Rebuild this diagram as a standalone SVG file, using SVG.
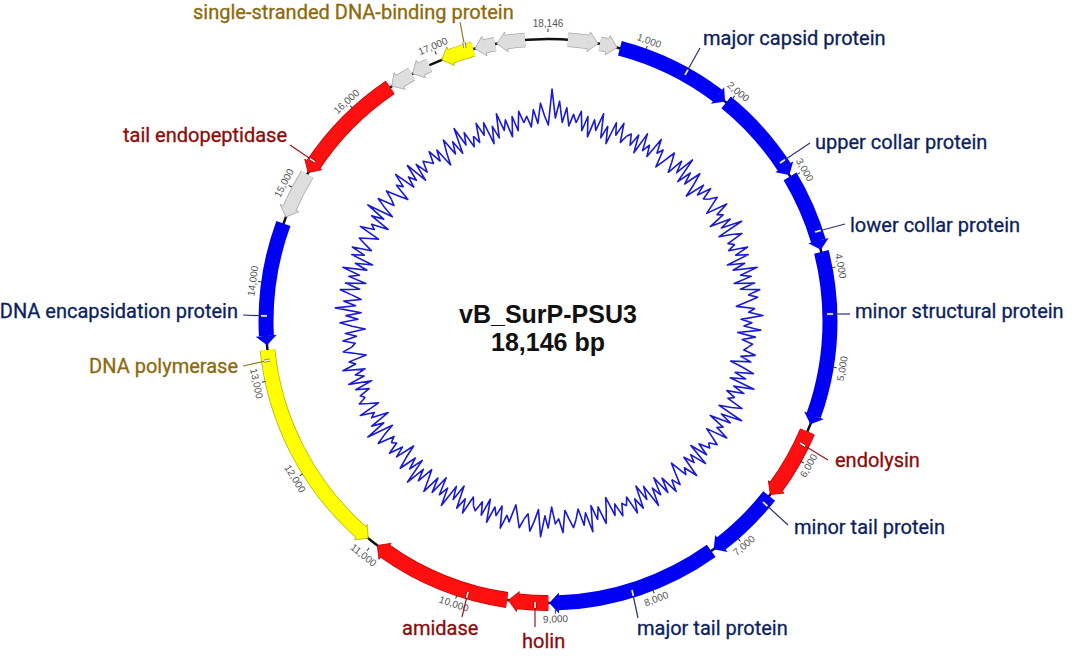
<svg xmlns="http://www.w3.org/2000/svg" width="1084" height="656" viewBox="0 0 1084 656">
<style>
.bb{fill:none;stroke:#111;stroke-width:2.5}
.gc{fill:none;stroke:#1a1ad0;stroke-width:1.6;stroke-linejoin:round}
.body{fill:none}
.blue .body{stroke:#0000f5;stroke-width:15}
.blue .hd{fill:#0000f5}
.red .ol{fill:none;stroke:#c80000;stroke-width:16}
.red .body{stroke:#ff1010;stroke-width:14.4}
.red .hd{fill:#ff1010;stroke:#c80000;stroke-width:0.8}
.yel .ol{fill:none;stroke:#b5b500;stroke-width:15.5}
.yel .body{stroke:#ffff00;stroke-width:14}
.yel .hd{fill:#ffff00;stroke:#b5b500;stroke-width:0.8}
.gry .ol{fill:none;stroke:#a8a8a8;stroke-width:14.5}
.gry .body{stroke:#dedede;stroke-width:13}
.gry .hd{fill:#dedede;stroke:#a8a8a8;stroke-width:0.8}
.lbl{font-family:Roboto,"Liberation Sans",sans-serif;font-size:20px;stroke-width:0.3}
.nv{fill:#0c1f5e;stroke:#0c1f5e}
.dr{fill:#8c0b0b;stroke:#8c0b0b}
.ol2{fill:#8d6a0c;stroke:#8d6a0c}
.ld{fill:none;stroke-width:1.2}
.ldn{stroke:#2a3070}
.ldr{stroke:#8c1b1b}
.ldo{stroke:#8d7a1c}
.mk{stroke-width:3.2;fill:none}
.mkw{stroke:#f4f4f4;stroke-width:1.5;fill:none}
.tk text{font-family:"Liberation Sans",Arial,sans-serif;font-size:10px;fill:#555;text-anchor:middle}
.tk line{stroke:#333;stroke-width:1}
.ctr{font-family:"Liberation Sans",Arial,sans-serif;font-weight:bold;font-size:25px;fill:#111;text-anchor:middle}
</style>
<defs>
<path id="mA" d="M0,-200 L3.7,-212 6.7,-192.9 10.9,-207.7 13.1,-187.5 18,-205.2 20.5,-194.9 26.1,-212.4 26.4,-188.2 31.8,-200.5 32.3,-183.2 39.9,-205.2 41,-192.7 47.5,-205.6 46.4,-186.3 51.8,-193.2"/>
<path id="mB" d="M0,-200 L3.3,-190 7.2,-206.9 10.2,-194.7 15,-214.5 16.5,-188.3 21.3,-202.9 23.4,-190.6 29.2,-208 31,-195.6 32.1,-182.2 39.1,-201.2 40.3,-189.8 46.8,-202.7 47.4,-190.2 51.8,-193.2"/>
<path id="mC" d="M0,-200 L3.6,-209 6.9,-196.9 9.8,-186.7 14.3,-204.5 17.3,-198.2 22.3,-211.8 23.3,-189.6 28.1,-200 30.3,-191.6 36.6,-207.8 35.9,-184.5 42.8,-201.5 43.4,-188.1 49.4,-197.9 51.8,-193.2"/>
<path id="mD" d="M0,-200 L3.4,-194 7.4,-210.9 10.5,-200.7 13.2,-188.5 18.8,-215.2 20.4,-193.9 25.2,-205.5 25.9,-184.2 31.8,-200.5 34.4,-195 40.5,-208.1 39.5,-185.9 44.8,-193.9 50.3,-201.8 51.8,-193.2"/>
<path id="mE" d="M0,-200 L3.6,-206 6.8,-194.9 11.1,-211.7 13.8,-197.5 19,-217.2 21.4,-203.9 23.9,-194.5 32.3,-229.7 31.8,-200.5 38.2,-216.7 38,-195.3 44.5,-209.3 44.1,-191 50.3,-201.8 51.8,-193.2"/>
<path id="hcw" d="M-9.6,-292.5 L0,-282 L-9.6,-271.5 Z"/>
<path id="hccw" d="M9.6,-292.5 L0,-282 L9.6,-271.5 Z"/>
<path id="hcwo" d="M-9.6,-289 L-9.6,-292 L0,-282 L-9.6,-272 L-9.6,-275"/>
<path id="hccwo" d="M9.6,-289 L9.6,-292 L0,-282 L9.6,-272 L9.6,-275"/>
</defs>

<g id="gc-skew" class="gc" transform="translate(550,321)">
<use href="#mE" transform="rotate(-7.5)"/>
<use href="#mA" transform="rotate(7.5)"/>
<use href="#mC" transform="rotate(37.5) scale(-1,1)"/>
<use href="#mB" transform="rotate(37.5)"/>
<use href="#mD" transform="rotate(67.5) scale(-1,1)"/>
<use href="#mA" transform="rotate(82.5) scale(-1,1)"/>
<use href="#mC" transform="rotate(82.5)"/>
<use href="#mB" transform="rotate(112.5) scale(-1,1)"/>
<use href="#mD" transform="rotate(112.5)"/>
<use href="#mC" transform="rotate(142.5) scale(-1,1)"/>
<use href="#mA" transform="rotate(142.5)"/>
<use href="#mB" transform="rotate(172.5) scale(-1,1)"/>
<use href="#mD" transform="rotate(187.5) scale(-1,1)"/>
<use href="#mC" transform="rotate(187.5)"/>
<use href="#mA" transform="rotate(217.5) scale(-1,1)"/>
<use href="#mB" transform="rotate(217.5)"/>
<use href="#mD" transform="rotate(232.5)"/>
<use href="#mC" transform="rotate(262.5) scale(-1,1)"/>
<use href="#mB" transform="rotate(277.5) scale(-1,1)"/>
<use href="#mA" transform="rotate(277.5)"/>
<use href="#mD" transform="rotate(307.5) scale(-1,1)"/>
<use href="#mC" transform="rotate(307.5)"/>
<use href="#mB" transform="rotate(337.5) scale(-1,1)"/>
<use href="#mA" transform="rotate(352.5) scale(-1,1)"/>
</g>

<g id="backbone"><circle class="bb" cx="548" cy="321" r="282"/></g>

<g id="genes" transform="translate(548,321)">
<g id="orf-grey-1" class="gry">
<circle class="ol" r="282" pathLength="18146" transform="rotate(-90)" stroke-dasharray="215 30000" stroke-dashoffset="-205"/>
<circle class="body" r="282" pathLength="18146" transform="rotate(-90)" stroke-dasharray="215 30000" stroke-dashoffset="-205"/>
<use class="hd" href="#hcwo" transform="rotate(10.217)"/></g>
<g id="orf-grey-2" class="gry">
<circle class="ol" r="282" pathLength="18146" transform="rotate(-90)" stroke-dasharray="84 30000" stroke-dashoffset="-535"/>
<circle class="body" r="282" pathLength="18146" transform="rotate(-90)" stroke-dasharray="84 30000" stroke-dashoffset="-535"/>
<use class="hd" href="#hcwo" transform="rotate(14.165)"/></g>
<g id="major-capsid" class="blue">
<circle class="body" r="282" pathLength="18146" transform="rotate(-90)" stroke-dasharray="1120 30000" stroke-dashoffset="-745"/>
<use class="hd" href="#hcw" transform="rotate(38.885)"/></g>
<g id="upper-collar" class="blue">
<circle class="body" r="282" pathLength="18146" transform="rotate(-90)" stroke-dasharray="895 30000" stroke-dashoffset="-1975"/>
<use class="hd" href="#hcw" transform="rotate(58.823)"/></g>
<g id="lower-collar" class="blue">
<circle class="body" r="282" pathLength="18146" transform="rotate(-90)" stroke-dasharray="725 30000" stroke-dashoffset="-2980"/>
<use class="hd" href="#hcw" transform="rotate(75.389)"/></g>
<g id="minor-structural" class="blue">
<circle class="body" r="282" pathLength="18146" transform="rotate(-90)" stroke-dasharray="1705 30000" stroke-dashoffset="-3820"/>
<use class="hd" href="#hcw" transform="rotate(111.496)"/></g>
<g id="endolysin" class="red">
<circle class="ol" r="282" pathLength="18146" transform="rotate(-90)" stroke-dasharray="655 30000" stroke-dashoffset="-5700"/>
<circle class="body" r="282" pathLength="18146" transform="rotate(-90)" stroke-dasharray="655 30000" stroke-dashoffset="-5700"/>
<use class="hd" href="#hcwo" transform="rotate(127.962)"/></g>
<g id="minor-tail" class="blue">
<circle class="body" r="282" pathLength="18146" transform="rotate(-90)" stroke-dasharray="695 30000" stroke-dashoffset="-6470"/>
<use class="hd" href="#hcw" transform="rotate(144.032)"/></g>
<g id="major-tail" class="blue">
<circle class="body" r="282" pathLength="18146" transform="rotate(-90)" stroke-dasharray="1675 30000" stroke-dashoffset="-7290"/>
<use class="hd" href="#hcw" transform="rotate(179.742)"/></g>
<g id="holin" class="red">
<circle class="ol" r="282" pathLength="18146" transform="rotate(-90)" stroke-dasharray="315 30000" stroke-dashoffset="-9070"/>
<circle class="body" r="282" pathLength="18146" transform="rotate(-90)" stroke-dasharray="315 30000" stroke-dashoffset="-9070"/>
<use class="hd" href="#hcwo" transform="rotate(188.075)"/></g>
<g id="amidase" class="red">
<circle class="ol" r="282" pathLength="18146" transform="rotate(-90)" stroke-dasharray="1360 30000" stroke-dashoffset="-9495"/>
<circle class="body" r="282" pathLength="18146" transform="rotate(-90)" stroke-dasharray="1360 30000" stroke-dashoffset="-9495"/>
<use class="hd" href="#hcwo" transform="rotate(217.238)"/></g>
<g id="dna-polymerase" class="yel">
<circle class="ol" r="282" pathLength="18146" transform="rotate(-90)" stroke-dasharray="2145 30000" stroke-dashoffset="-11165"/>
<circle class="body" r="282" pathLength="18146" transform="rotate(-90)" stroke-dasharray="2145 30000" stroke-dashoffset="-11165"/>
<use class="hd" href="#hccwo" transform="rotate(219.619)"/></g>
<g id="dna-encapsidation" class="blue">
<circle class="body" r="282" pathLength="18146" transform="rotate(-90)" stroke-dasharray="1175 30000" stroke-dashoffset="-13455"/>
<use class="hd" href="#hccw" transform="rotate(265.050)"/></g>
<g id="orf-grey-3" class="gry">
<circle class="ol" r="282" pathLength="18146" transform="rotate(-90)" stroke-dasharray="395 30000" stroke-dashoffset="-14795"/>
<circle class="body" r="282" pathLength="18146" transform="rotate(-90)" stroke-dasharray="395 30000" stroke-dashoffset="-14795"/>
<use class="hd" href="#hccwo" transform="rotate(291.635)"/></g>
<g id="tail-endopeptidase" class="red">
<circle class="ol" r="282" pathLength="18146" transform="rotate(-90)" stroke-dasharray="1125 30000" stroke-dashoffset="-15305"/>
<circle class="body" r="282" pathLength="18146" transform="rotate(-90)" stroke-dasharray="1125 30000" stroke-dashoffset="-15305"/>
<use class="hd" href="#hccwo" transform="rotate(301.753)"/></g>
<g id="orf-grey-4" class="gry">
<circle class="ol" r="282" pathLength="18146" transform="rotate(-90)" stroke-dasharray="145 30000" stroke-dashoffset="-16545"/>
<circle class="body" r="282" pathLength="18146" transform="rotate(-90)" stroke-dasharray="145 30000" stroke-dashoffset="-16545"/>
<use class="hd" href="#hccwo" transform="rotate(326.353)"/></g>
<g id="orf-grey-5" class="gry">
<circle class="ol" r="282" pathLength="18146" transform="rotate(-90)" stroke-dasharray="95 30000" stroke-dashoffset="-16795"/>
<circle class="body" r="282" pathLength="18146" transform="rotate(-90)" stroke-dasharray="95 30000" stroke-dashoffset="-16795"/>
<use class="hd" href="#hccwo" transform="rotate(331.313)"/></g>
<g id="ssdna-binding" class="yel">
<circle class="ol" r="282" pathLength="18146" transform="rotate(-90)" stroke-dasharray="245 30000" stroke-dashoffset="-17125"/>
<circle class="body" r="282" pathLength="18146" transform="rotate(-90)" stroke-dasharray="245 30000" stroke-dashoffset="-17125"/>
<use class="hd" href="#hccwo" transform="rotate(337.860)"/></g>
<g id="orf-grey-6" class="gry">
<circle class="ol" r="282" pathLength="18146" transform="rotate(-90)" stroke-dasharray="115 30000" stroke-dashoffset="-17485"/>
<circle class="body" r="282" pathLength="18146" transform="rotate(-90)" stroke-dasharray="115 30000" stroke-dashoffset="-17485"/>
<use class="hd" href="#hccwo" transform="rotate(345.002)"/></g>
<g id="orf-grey-7" class="gry">
<circle class="ol" r="282" pathLength="18146" transform="rotate(-90)" stroke-dasharray="195 30000" stroke-dashoffset="-17715"/>
<circle class="body" r="282" pathLength="18146" transform="rotate(-90)" stroke-dasharray="195 30000" stroke-dashoffset="-17715"/>
<use class="hd" href="#hccwo" transform="rotate(349.565)"/></g>
</g>

<g id="ticks" class="tk" transform="translate(548,321)">
<g transform="rotate(0)"><line y1="-289" y2="-292.5"/><text y="-294.5">18,146</text></g>
<g transform="rotate(19.839)"><line y1="-289" y2="-292.5"/><text y="-294.5">1,000</text></g>
<g transform="rotate(39.678)"><line y1="-289" y2="-292.5"/><text y="-294.5">2,000</text></g>
<g transform="rotate(59.517)"><line y1="-289" y2="-292.5"/><text y="-294.5">3,000</text></g>
<g transform="rotate(79.356)"><line y1="-289" y2="-292.5"/><text y="-294.5">4,000</text></g>
<g transform="rotate(99.196)"><line y1="-289" y2="-292.5"/><text transform="translate(0,-301.5) rotate(180)">5,000</text></g>
<g transform="rotate(119.035)"><line y1="-289" y2="-292.5"/><text transform="translate(0,-301.5) rotate(180)">6,000</text></g>
<g transform="rotate(138.874)"><line y1="-289" y2="-292.5"/><text transform="translate(0,-301.5) rotate(180)">7,000</text></g>
<g transform="rotate(158.713)"><line y1="-289" y2="-292.5"/><text transform="translate(0,-301.5) rotate(180)">8,000</text></g>
<g transform="rotate(178.552)"><line y1="-289" y2="-292.5"/><text transform="translate(0,-301.5) rotate(180)">9,000</text></g>
<g transform="rotate(198.391)"><line y1="-289" y2="-292.5"/><text transform="translate(0,-301.5) rotate(180)">10,000</text></g>
<g transform="rotate(218.230)"><line y1="-289" y2="-292.5"/><text transform="translate(0,-301.5) rotate(180)">11,000</text></g>
<g transform="rotate(238.069)"><line y1="-289" y2="-292.5"/><text transform="translate(0,-301.5) rotate(180)">12,000</text></g>
<g transform="rotate(257.908)"><line y1="-289" y2="-292.5"/><text transform="translate(0,-301.5) rotate(180)">13,000</text></g>
<g transform="rotate(277.747)"><line y1="-289" y2="-292.5"/><text y="-294.5">14,000</text></g>
<g transform="rotate(297.587)"><line y1="-289" y2="-292.5"/><text y="-294.5">15,000</text></g>
<g transform="rotate(317.426)"><line y1="-289" y2="-292.5"/><text y="-294.5">16,000</text></g>
<g transform="rotate(337.265)"><line y1="-289" y2="-292.5"/><text y="-294.5">17,000</text></g>
</g>

<g id="connectors">
<path class="ld ldo" d="M460,22 L465,48"/><path class="mk ldo" d="M463.9,42.1 L465,48"/><path class="mkw" d="M463.9,42.1 L465,48"/>
<path class="ld ldn" d="M700,48 L685,75"/><path class="mk ldn" d="M687.9,69.8 L685,75"/><path class="mkw" d="M687.9,69.8 L685,75"/>
<path class="ld ldn" d="M810,143 L780,163"/><path class="mk ldn" d="M785,159.7 L780,163"/><path class="mkw" d="M785,159.7 L780,163"/>
<path class="ld ldn" d="M845,224 L815,232"/><path class="mk ldn" d="M820.8,230.5 L815,232"/><path class="mkw" d="M820.8,230.5 L815,232"/>
<path class="ld ldn" d="M850,314 L827,314"/><path class="mk ldn" d="M833,314 L827,314"/><path class="mkw" d="M833,314 L827,314"/>
<path class="ld ldr" d="M828,460 L800,443"/><path class="mk ldr" d="M805.1,446.1 L800,443"/><path class="mkw" d="M805.1,446.1 L800,443"/>
<path class="ld ldn" d="M788,525 L763,502"/><path class="mk ldn" d="M767.4,506.1 L763,502"/><path class="mkw" d="M767.4,506.1 L763,502"/>
<path class="ld ldn" d="M638,618 L632,590"/><path class="mk ldn" d="M633.3,595.9 L632,590"/><path class="mkw" d="M633.3,595.9 L632,590"/>
<path class="ld ldr" d="M462,617 L468,592"/><path class="mk ldr" d="M466.6,597.8 L468,592"/><path class="mkw" d="M466.6,597.8 L468,592"/>
<path class="ld ldr" d="M535,627 L535,602"/><path class="mk ldr" d="M535,608 L535,602"/><path class="mkw" d="M535,608 L535,602"/>
<path class="ld ldn" d="M243,315 L267,316"/><path class="mk ldn" d="M261,315.8 L267,316"/><path class="mkw" d="M261,315.8 L267,316"/>
<path class="ld ldo" d="M243,366 L270,360"/><path class="mk ldo" d="M264.1,361.3 L270,360"/><path class="mkw" d="M264.1,361.3 L270,360"/>
<path class="ld ldr" d="M290,145 L315,162"/><path class="mk ldr" d="M310,158.6 L315,162"/><path class="mkw" d="M310,158.6 L315,162"/>
</g>

<g id="labels" class="lbl">
<g id="lbl-ssdna"><text class="ol2" x="193" y="19">single-stranded DNA-binding protein</text></g>
<g id="lbl-major-capsid"><text class="nv" x="703" y="45">major capsid protein</text></g>
<g id="lbl-upper-collar"><text class="nv" x="815" y="149">upper collar protein</text></g>
<g id="lbl-lower-collar"><text class="nv" x="850" y="232">lower collar protein</text></g>
<g id="lbl-minor-structural"><text class="nv" x="855" y="318">minor structural protein</text></g>
<g id="lbl-endolysin"><text class="dr" x="835" y="467">endolysin</text></g>
<g id="lbl-minor-tail"><text class="nv" x="794" y="534">minor tail protein</text></g>
<g id="lbl-major-tail"><text class="nv" x="637" y="635">major tail protein</text></g>
<g id="lbl-amidase"><text class="dr" x="402" y="635">amidase</text></g>
<g id="lbl-holin"><text class="dr" x="522" y="648">holin</text></g>
<g id="lbl-dna-encapsidation"><text class="nv" x="238" y="318" text-anchor="end">DNA encapsidation protein</text></g>
<g id="lbl-dna-polymerase"><text class="ol2" x="238" y="373" text-anchor="end">DNA polymerase</text></g>
<g id="lbl-tail-endopeptidase"><text class="dr" x="287" y="142" text-anchor="end">tail endopeptidase</text></g>
</g>

<g id="title">
<text class="ctr" x="548" y="323">vB_SurP-PSU3</text>
<text class="ctr" x="548" y="351">18,146 bp</text>
</g>
</svg>
